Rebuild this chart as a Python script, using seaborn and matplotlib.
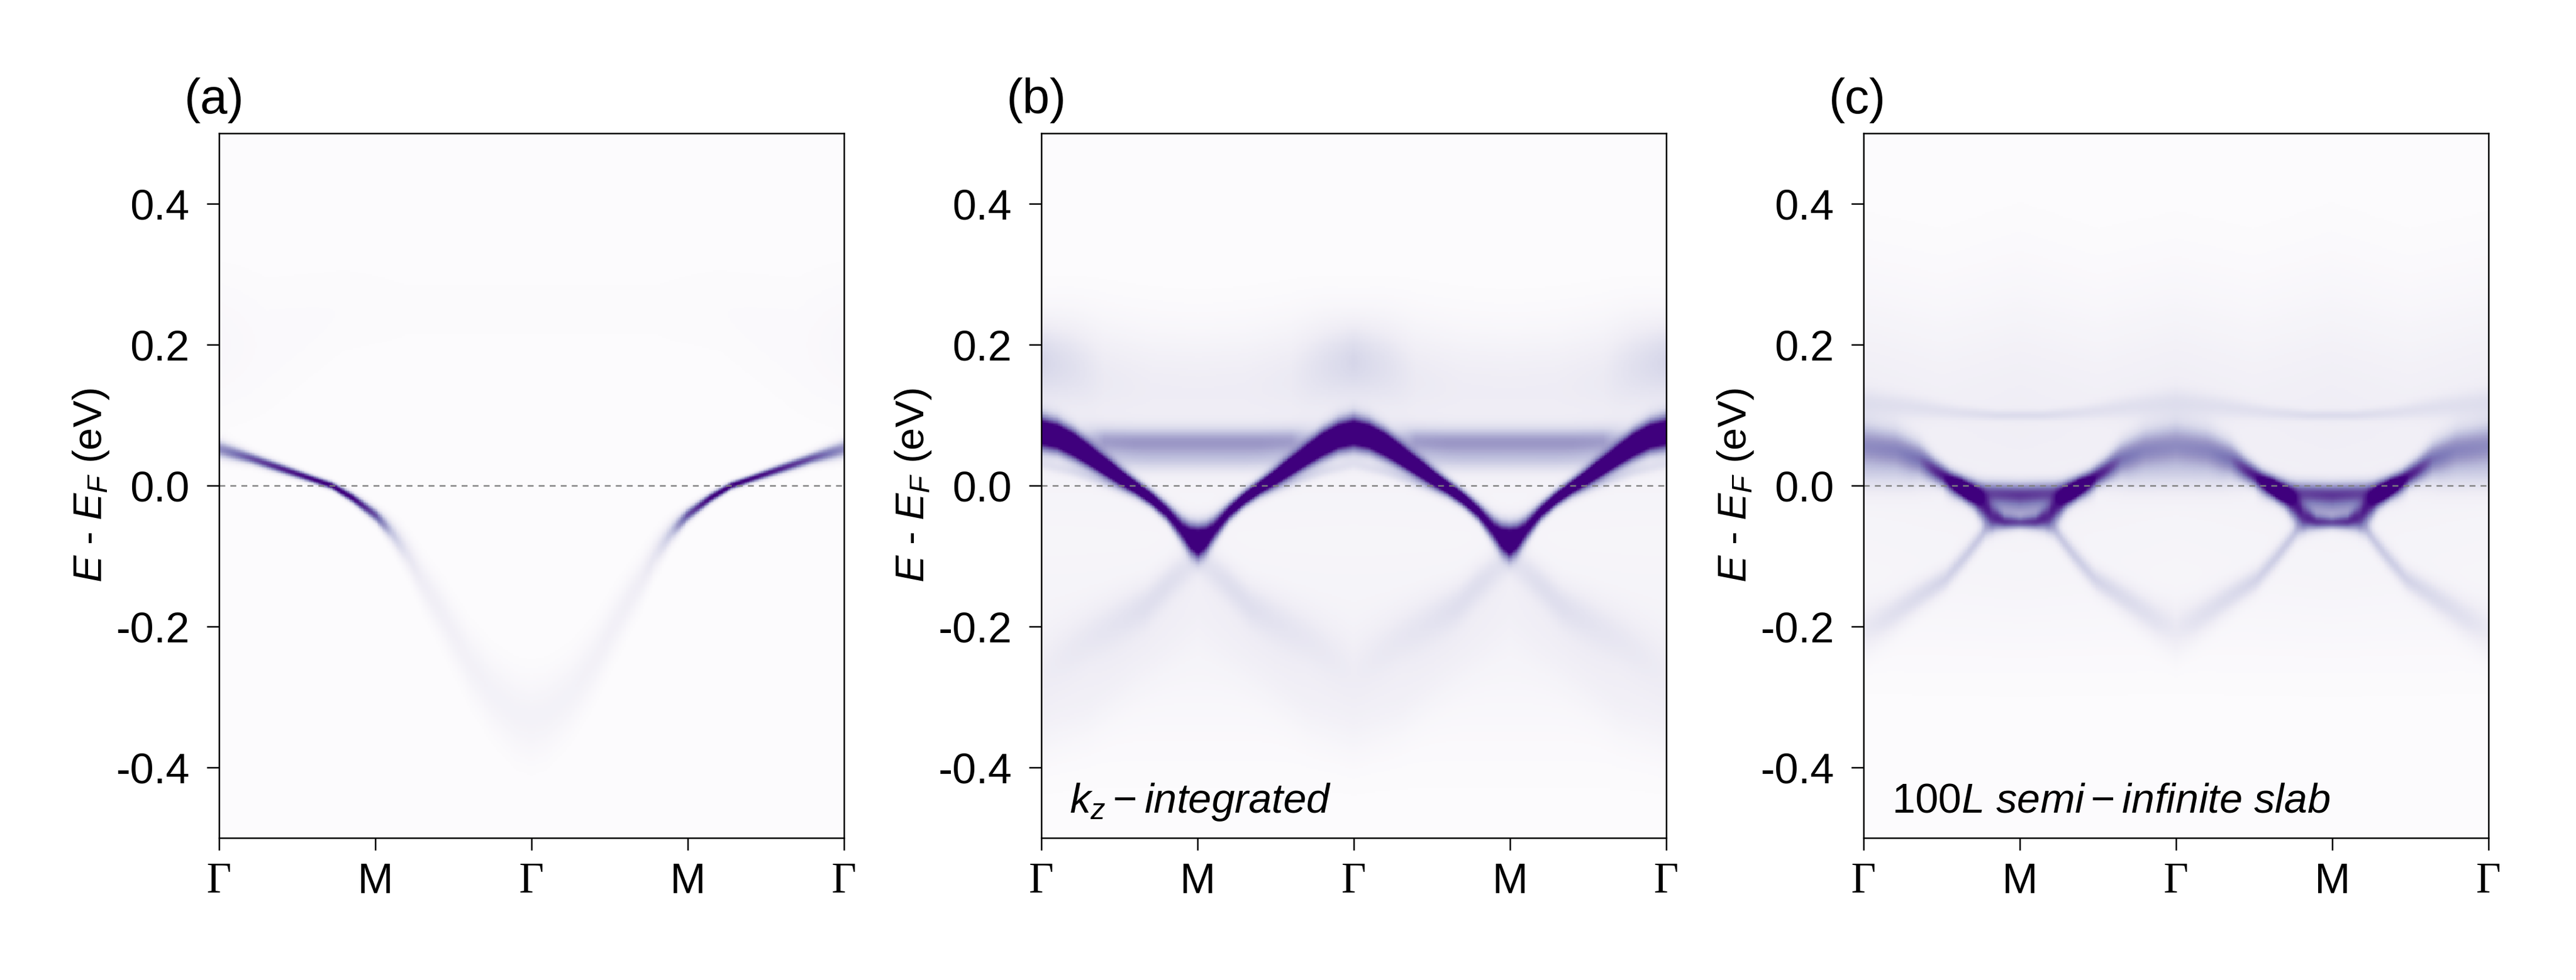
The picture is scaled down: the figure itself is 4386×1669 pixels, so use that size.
import numpy as np
import matplotlib
matplotlib.use("Agg")
import matplotlib.pyplot as plt
import seaborn as sns

# high-symmetry path, energy window
path_labels = ["Γ", "M", "Γ", "M", "Γ"]
path_pos = [0, 1, 2, 3, 4]
e_ticks = [0.4, 0.2, 0.0, -0.2, -0.4]
e_tick_labels = ["0.4", "0.2", "0.0", "-0.2", "-0.4"]
e_min, e_max = -0.5, 0.5

# band features: (k points, energy, width, intensity)
# (a) bulk, k from Γ (0) to Γ (2), mirrored
a_main_k = [0.0, 0.2, 0.4, 0.6, 0.72, 0.85, 1.0, 1.1, 1.2, 1.3, 1.45, 1.6, 1.75, 1.9, 2.0]
a_main_e = [0.052, 0.039, 0.024, 0.009, 0.0, -0.017, -0.042, -0.065, -0.095, -0.135, -0.19, -0.25, -0.295, -0.323, -0.33]
a_main_w = [0.009, 0.006, 0.005, 0.004, 0.004, 0.005, 0.007, 0.011, 0.016, 0.021, 0.026, 0.03, 0.034, 0.037, 0.038]
a_main_i = [0.55, 0.75, 0.9, 1.0, 1.05, 1.0, 0.75, 0.35, 0.18, 0.12, 0.1, 0.09, 0.085, 0.085, 0.085]
a_diff_k = [0.0, 0.3, 0.8, 1.2, 2.0]
a_diff_e = [0.2, 0.2, 0.25, 0.25, 0.25]
a_diff_w = [0.07, 0.07, 0.05, 0.05, 0.05]
a_diff_i = [0.035, 0.02, 0.015, 0.01, 0.01]

# (b) kz-integrated, k from Γ (0) to M (1), mirrored
b_main_k = [0.0, 0.1, 0.2, 0.35, 0.5, 0.6, 0.7, 0.8, 0.85, 0.9, 0.95, 1.0]
b_main_e = [0.075, 0.07, 0.058, 0.035, 0.012, -0.002, -0.018, -0.037, -0.05, -0.063, -0.074, -0.079]
b_main_w = [0.016, 0.015, 0.014, 0.011, 0.009, 0.008, 0.008, 0.009, 0.011, 0.013, 0.015, 0.016]
b_main_i = [1.4, 1.4, 1.4, 1.4, 1.4, 1.3, 1.2, 1.05, 1.0, 1.0, 1.2, 1.4]
b_flat_k = [0.0, 0.25, 0.4, 0.6, 1.0]
b_flat_e = [0.07, 0.066, 0.063, 0.062, 0.062]
b_flat_w = [0.015, 0.015, 0.014, 0.014, 0.014]
b_flat_i = [0.0, 0.15, 0.38, 0.4, 0.4]
b_flat2_k = [0.3, 0.45, 0.7, 1.0]
b_flat2_e = [0.035, 0.035, 0.035, 0.035]
b_flat2_w = [0.012, 0.012, 0.012, 0.012]
b_flat2_i = [0.0, 0.16, 0.18, 0.18]
b_up_k = [0.0, 0.2, 0.4, 0.7, 1.0]
b_up_e = [0.18, 0.175, 0.165, 0.155, 0.15]
b_up_w = [0.04, 0.045, 0.05, 0.05, 0.05]
b_up_i = [0.22, 0.16, 0.09, 0.07, 0.07]
b_low_k = [0.0, 0.27, 0.5, 0.66, 0.8, 0.9, 1.0]
b_low_e = [-0.26, -0.22, -0.19, -0.17, -0.14, -0.12, -0.1]
b_low_w = [0.035, 0.03, 0.026, 0.022, 0.02, 0.02, 0.02]
b_low_i = [0.06, 0.09, 0.11, 0.13, 0.14, 0.13, 0.12]
b_bowl_k = [0.0, 0.3, 0.6, 1.0]
b_bowl_e = [-0.33, -0.3, -0.24, -0.16]
b_bowl_w = [0.04, 0.04, 0.04, 0.04]
b_bowl_i = [0.06, 0.06, 0.05, 0.04]
b_ghost_k = [0.0, 0.2, 0.4, 0.55, 0.7]
b_ghost_e = [0.03, 0.02, 0.004, -0.01, -0.03]
b_ghost_w = [0.006, 0.006, 0.006, 0.006, 0.006]
b_ghost_i = [0.1, 0.13, 0.15, 0.1, 0.0]
b_bg_k = [0.0, 1.0]
b_bg_e = [0.08, 0.07]
b_bg_w = [0.09, 0.09]
b_bg_i = [0.09, 0.08]
b_bg2_k = [0.0, 1.0]
b_bg2_e = [-0.2, -0.2]
b_bg2_w = [0.11, 0.11]
b_bg2_i = [0.07, 0.07]

# (c) 100L semi-infinite slab, k from Γ (0) to M (1), mirrored
c_main_k = [0.0, 0.2, 0.35, 0.45, 0.55, 0.62, 0.7, 0.76, 0.82, 0.9, 1.0]
c_main_e = [0.056, 0.05, 0.038, 0.022, 0.008, 0.0, -0.014, -0.03, -0.045, -0.052, -0.053]
c_main_w = [0.022, 0.02, 0.016, 0.012, 0.01, 0.01, 0.013, 0.015, 0.012, 0.007, 0.006]
c_main_i = [0.45, 0.48, 0.55, 0.75, 0.9, 0.92, 0.72, 0.55, 0.5, 0.55, 0.58]
c_flat_k = [0.5, 0.62, 0.7, 1.0]
c_flat_e = [-0.003, -0.006, -0.009, -0.011]
c_flat_w = [0.011, 0.011, 0.011, 0.011]
c_flat_i = [0.0, 0.5, 0.62, 0.64]
c_pock_k = [0.7, 0.8, 1.0]
c_pock_e = [-0.033, -0.033, -0.033]
c_pock_w = [0.013, 0.013, 0.013]
c_pock_i = [0.0, 0.3, 0.35]
c_stripe_k = [0.0, 0.3, 0.5]
c_stripe_e = [0.012, 0.008, 0.002]
c_stripe_w = [0.016, 0.014, 0.012]
c_stripe_i = [0.12, 0.1, 0.0]
c_low_k = [0.0, 0.13, 0.4, 0.52, 0.65, 0.78, 0.85, 1.0]
c_low_e = [-0.205, -0.19, -0.15, -0.133, -0.1, -0.063, -0.055, -0.055]
c_low_w = [0.025, 0.02, 0.014, 0.012, 0.011, 0.01, 0.01, 0.01]
c_low_i = [0.12, 0.16, 0.2, 0.22, 0.24, 0.26, 0.15, 0.0]
c_arc_k = [0.0, 0.3, 0.6, 0.85, 1.0]
c_arc_e = [0.118, 0.112, 0.104, 0.1, 0.1]
c_arc_w = [0.014, 0.011, 0.007, 0.005, 0.005]
c_arc_i = [0.1, 0.1, 0.1, 0.12, 0.12]
c_bg_k = [0.0, 0.5, 1.0]
c_bg_e = [0.11, 0.09, 0.1]
c_bg_w = [0.12, 0.12, 0.13]
c_bg_i = [0.12, 0.11, 0.12]
c_bg2_k = [0.0, 1.0]
c_bg2_e = [-0.15, -0.15]
c_bg2_w = [0.08, 0.08]
c_bg2_i = [0.04, 0.04]

panels = [
    ("(a)", 2, None, [
        (a_main_k, a_main_e, a_main_w, a_main_i),
        (a_diff_k, a_diff_e, a_diff_w, a_diff_i),
    ]),
    ("(b)", 1, r"$k_z - integrated$", [
        (b_bg_k, b_bg_e, b_bg_w, b_bg_i),
        (b_bg2_k, b_bg2_e, b_bg2_w, b_bg2_i),
        (b_main_k, b_main_e, b_main_w, b_main_i),
        (b_flat_k, b_flat_e, b_flat_w, b_flat_i),
        (b_flat2_k, b_flat2_e, b_flat2_w, b_flat2_i),
        (b_up_k, b_up_e, b_up_w, b_up_i),
        (b_low_k, b_low_e, b_low_w, b_low_i),
        (b_bowl_k, b_bowl_e, b_bowl_w, b_bowl_i),
        (b_ghost_k, b_ghost_e, b_ghost_w, b_ghost_i),
    ]),
    ("(c)", 1, r"100$L\ semi-infinite\ slab$", [
        (c_bg_k, c_bg_e, c_bg_w, c_bg_i),
        (c_bg2_k, c_bg2_e, c_bg2_w, c_bg2_i),
        (c_main_k, c_main_e, c_main_w, c_main_i),
        (c_flat_k, c_flat_e, c_flat_w, c_flat_i),
        (c_pock_k, c_pock_e, c_pock_w, c_pock_i),
        (c_stripe_k, c_stripe_e, c_stripe_w, c_stripe_i),
        (c_low_k, c_low_e, c_low_w, c_low_i),
        (c_arc_k, c_arc_e, c_arc_w, c_arc_i),
    ]),
]

n_k, n_e = 400, 480
k_grid = np.linspace(0, 4, n_k)
e_grid = np.linspace(e_max, e_min, n_e)  # top row = highest energy


def spectral_map(features, period):
    # fold the path back onto the irreducible segment
    if period == 2:
        kf = 2 - np.abs(k_grid - 2)
    else:
        kf = 1 - np.abs(np.mod(k_grid, 2) - 1)
    img = np.zeros((n_e, n_k))
    for bk, be, bw, bi in features:
        e0 = np.interp(kf, bk, be)
        w = np.interp(kf, bk, bw)
        amp = np.interp(kf, bk, bi, left=bi[0] if bk[0] == 0 else 0.0)
        img += amp[None, :] * np.exp(-0.5 * ((e_grid[:, None] - e0[None, :]) / w[None, :]) ** 2)
    return img


sns.set_style("ticks")
plt.rcParams["font.family"] = ["Liberation Sans", "DejaVu Sans"]
plt.rcParams["mathtext.fontset"] = "custom"
plt.rcParams["mathtext.rm"] = "Liberation Sans"
plt.rcParams["mathtext.it"] = "Liberation Sans:italic"
plt.rcParams["mathtext.sf"] = "Liberation Sans"
for key in ["text.color", "axes.labelcolor", "xtick.color", "ytick.color", "axes.edgecolor"]:
    plt.rcParams[key] = "black"

fig = plt.figure(figsize=(4386 / 300, 1669 / 300), dpi=300)
lefts = [373 / 4386, 1773 / 4386, 3173 / 4386]
width = 1064 / 4386
bottom = (1669 - 1427) / 1669
height = 1200 / 1669

for (tag, period, note, features), left in zip(panels, lefts):
    ax = fig.add_axes([left, bottom, width, height])
    img = spectral_map(features, period)
    sns.heatmap(img, ax=ax, cmap="Purples", vmin=0, vmax=1, cbar=False,
                xticklabels=False, yticklabels=False, rasterized=True)
    for s in ax.spines.values():
        s.set_visible(True)
        s.set_linewidth(0.6)
        s.set_color("black")

    ax.set_xticks([p / 4 * n_k for p in path_pos])
    ax.set_xticklabels(path_labels)
    ax.set_yticks([(e_max - v) / (e_max - e_min) * n_e for v in e_ticks])
    ax.set_yticklabels(e_tick_labels)
    ax.tick_params(axis="both", direction="out", length=5, width=0.6,
                   labelsize=17.5, color="black", labelcolor="black")
    ax.tick_params(axis="y", pad=7, rotation=0)
    ax.tick_params(axis="x", pad=5, rotation=0)
    for lbl in ax.get_xticklabels():
        if lbl.get_text() == "Γ":
            lbl.set_fontfamily("Liberation Serif")

    y0 = (e_max - 0.0) / (e_max - e_min) * n_e
    ax.axhline(y0, color="#808080", lw=0.6, dashes=(4, 3.5))

    ax.set_ylabel(r"$E$ - $E_F$ (eV)", fontsize=16.5, labelpad=2, color="black")
    ax.text(-0.056, 1.028, tag, transform=ax.transAxes, fontsize=20,
            ha="left", va="baseline", color="black")
    if note:
        ax.text(0.045, 0.036, note, transform=ax.transAxes, fontsize=17,
                ha="left", va="baseline", color="black")

fig.savefig("out.png", dpi=300)
